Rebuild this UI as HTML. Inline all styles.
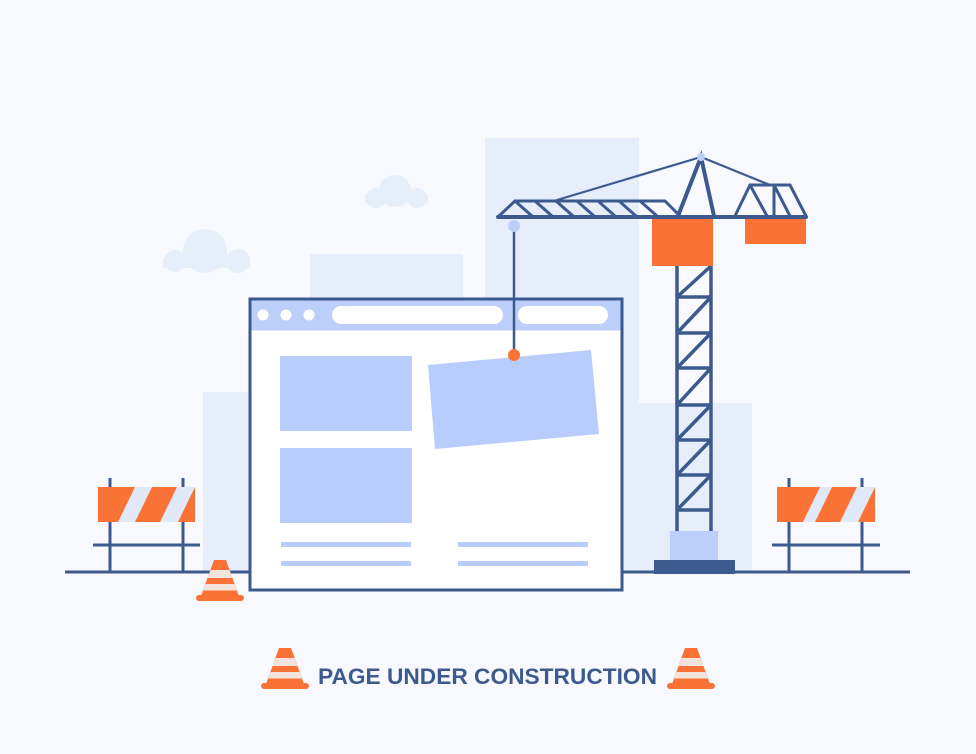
<!DOCTYPE html>
<html><head><meta charset="utf-8"><style>
html,body{margin:0;padding:0;background:#f8f9fe;}
svg{display:block}
</style></head><body>
<svg width="976" height="754" viewBox="0 0 976 754" xmlns="http://www.w3.org/2000/svg">
<defs>
<clipPath id="bl"><rect x="98" y="487" width="97" height="35"/></clipPath>
<clipPath id="br"><rect x="777" y="487" width="98" height="35"/></clipPath>
<g id="cone">
  <path d="M-6 0 L6 0 L19 36 L-19 36 Z" fill="#fb7236"/>
  <rect x="-24" y="35" width="48" height="6" rx="3" fill="#fb7236"/>
  <path d="M-9.5 10 L9.5 10 L12.4 18 L-12.4 18 Z" fill="#f2e3dc"/>
  <path d="M-14.5 24 L14.5 24 L16.9 30.5 L-16.9 30.5 Z" fill="#f2e3dc"/>
</g>
</defs>
<rect width="976" height="754" fill="#f8f9fe"/>
<g fill="#e6eefc">
<rect x="485" y="138" width="154" height="434"/>
<rect x="310" y="254" width="153" height="318"/>
<rect x="203" y="392" width="47" height="180"/>
<rect x="639" y="403" width="113" height="169"/>
</g>
<g fill="#e6eefc">
<circle cx="395" cy="191" r="16"/><circle cx="376" cy="198" r="10"/><circle cx="417" cy="198" r="10"/><rect x="365" y="194" width="63" height="9"/>
<circle cx="205" cy="251" r="22"/><circle cx="175" cy="261" r="11"/><circle cx="238" cy="261" r="12"/><rect x="163" y="258" width="87" height="10"/>
</g>
<line x1="65" y1="572" x2="910" y2="572" stroke="#3d5a8f" stroke-width="3"/>
<g stroke="#3d5a8f" stroke-width="3">
<line x1="110" y1="478" x2="110" y2="572"/><line x1="183" y1="478" x2="183" y2="572"/>
<line x1="93" y1="545" x2="200" y2="545"/>
<line x1="789" y1="478" x2="789" y2="572"/><line x1="862" y1="478" x2="862" y2="572"/>
<line x1="772" y1="545" x2="880" y2="545"/>
</g>
<rect x="98" y="487" width="97" height="35" fill="#e1e8f7"/>
<g clip-path="url(#bl)" fill="#fb7236">
<polygon points="78,522 118,522 135,487 95,487"/>
<polygon points="135,522 160,522 177,487 152,487"/>
<polygon points="178,522 203,522 220,487 195,487"/>
</g>
<rect x="777" y="487" width="98" height="35" fill="#e1e8f7"/>
<g clip-path="url(#br)" fill="#fb7236">
<polygon points="760,522 803,522 820,487 777,487"/>
<polygon points="815,522 840,522 857,487 832,487"/>
<polygon points="858,522 883,522 900,487 875,487"/>
</g>
<g stroke="#3d5a8f" stroke-width="3.5" fill="none">
<line x1="677" y1="266" x2="677" y2="531"/><line x1="711" y1="266" x2="711" y2="531"/>
<path d="M677 297H711M677 333H711M677 368H711M677 405H711M677 440H711M677 475H711M677 510H711"/>
<path d="M677 297L711 266M677 333L711 297M677 368L711 333M677 405L711 368M677 440L711 405M677 475L711 440M677 510L711 475"/>
</g>
<rect x="670" y="531" width="48" height="29" fill="#bccffb"/>
<rect x="654" y="560" width="81" height="14" fill="#3d5a8f"/>
<g stroke="#3d5a8f" fill="none" stroke-linecap="round">
<line x1="498" y1="217" x2="806" y2="217" stroke-width="4"/>
<path d="M499 216 L515 201 L665 201 L680 216" stroke-width="3"/>
<path d="M515 201L532 216M535 201L552 216M556 201L573 216M577 201L594 216M598 201L615 216M619 201L636 216M640 201L657 216" stroke-width="3"/>
<path d="M678 216 L701 157 L714 216" stroke-width="4"/>
<line x1="557" y1="200" x2="701" y2="157" stroke-width="2.2"/>
<line x1="701" y1="157" x2="770" y2="185" stroke-width="2.2"/>
<path d="M735 216 L750 185 L790 185 L806 216" stroke-width="3"/>
<path d="M750 185L767 216M774 185L774 216M774 185L790 216" stroke-width="3"/>
</g>
<circle cx="701" cy="157" r="4" fill="#bccffb"/>
<rect x="652" y="219" width="61" height="47" fill="#fb7236"/>
<rect x="745" y="219" width="61" height="25" fill="#fb7236"/>
<rect x="250" y="299" width="372" height="291" fill="#fff" stroke="#3d5a8f" stroke-width="3"/>
<rect x="251.5" y="300.5" width="369" height="30" fill="#bccffb"/>
<g fill="#fff">
<circle cx="263" cy="315" r="5.5"/><circle cx="286" cy="315" r="5.5"/><circle cx="309" cy="315" r="5.5"/>
<rect x="332" y="306" width="171" height="18" rx="9"/>
<rect x="518" y="306" width="90" height="18" rx="9"/>
</g>
<g fill="#b8cdfb">
<rect x="280" y="356" width="132" height="75"/>
<rect x="280" y="448" width="132" height="75"/>
<rect x="281" y="542" width="130" height="5"/><rect x="281" y="561" width="130" height="5"/>
<rect x="458" y="542" width="130" height="5"/><rect x="458" y="561" width="130" height="5"/>
<polygon points="428,365 591,350 599,434 435,449"/>
</g>
<line x1="514" y1="226" x2="514" y2="355" stroke="#3d5a8f" stroke-width="2.5"/>
<circle cx="514" cy="226" r="6" fill="#bccffb"/>
<circle cx="514" cy="355" r="6" fill="#fb7236"/>
<use href="#cone" transform="translate(220,560)"/>
<use href="#cone" transform="translate(285,648)"/>
<use href="#cone" transform="translate(691,648)"/>
<text x="318" y="684" font-family="Liberation Sans, sans-serif" font-weight="bold" font-size="22" fill="#3d5a8f" textLength="339" lengthAdjust="spacingAndGlyphs">PAGE UNDER CONSTRUCTION</text>
</svg>
</body></html>
